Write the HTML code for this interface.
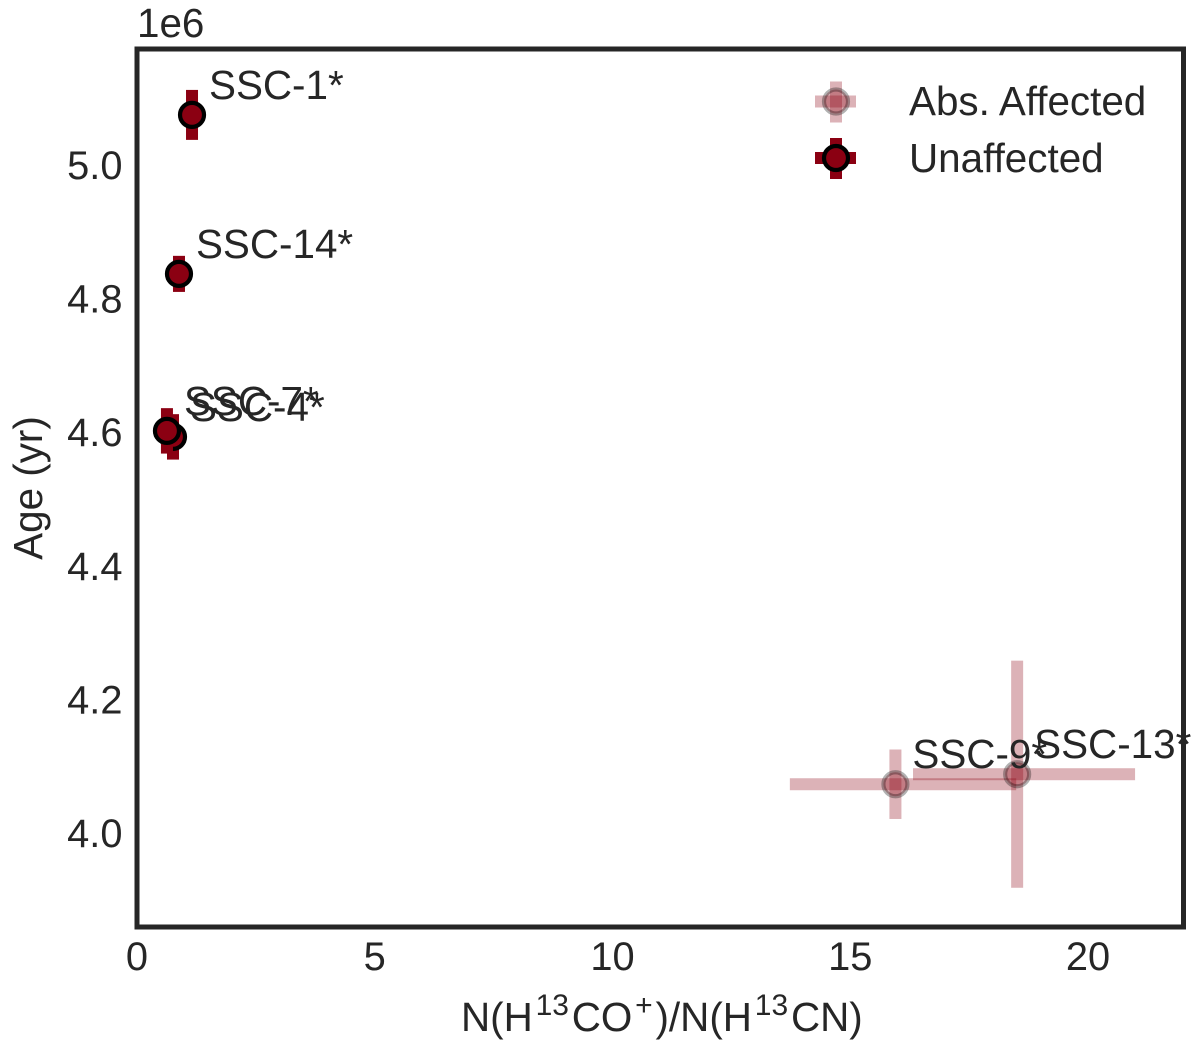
<!DOCTYPE html>
<html>
<head>
<meta charset="utf-8">
<title>Age vs N(H13CO+)/N(H13CN)</title>
<style>
html,body{margin:0;padding:0;background:#fff;}
svg{display:block;}
text{font-family:"Liberation Sans",sans-serif;fill:#262626;font-size:40.4px;}
#ticks text{font-size:39.8px;}
</style>
</head>
<body>
<svg id="chart" width="1200" height="1045" viewBox="0 0 1200 1045" xmlns="http://www.w3.org/2000/svg">
  <rect x="0" y="0" width="1200" height="1045" fill="#fff"/>
  <g id="marks"></g>
  <g id="ticks"></g>
  <rect x="137" y="49" width="1046.5" height="878" fill="none" stroke="#262626" stroke-width="5"/>
  <g id="annotations"></g>
  <text x="137" y="37">1e6</text>
  <text x="0" y="0" transform="translate(42,488) rotate(-90)" text-anchor="middle">Age (yr)</text>
  <text x="461" y="1031">N(H<tspan dy="-16" dx="2.8" style="font-size:30px">13</tspan><tspan dy="16" dx="2.8">CO</tspan><tspan dy="-16" dx="2.8" style="font-size:30px">+</tspan><tspan dy="16" dx="2.8">)/N(H</tspan><tspan dy="-16" dx="2.8" style="font-size:30px">13</tspan><tspan dy="16" dx="2.8">CN)</tspan></text>
  <g>
    <g>
      <rect x="815" y="95.5" width="41" height="12" fill="#8b0012" fill-opacity="0.3"/>
      <rect x="830" y="81.5" width="12" height="41" fill="#8b0012" fill-opacity="0.3"/>
      <circle cx="836" cy="101.5" r="12" fill="#8b0012" fill-opacity="0.3" stroke="#000" stroke-opacity="0.3" stroke-width="4.2"/>
      <text x="909" y="115">Abs. Affected</text>
    </g>
    <g>
      <rect x="815" y="152" width="41" height="12" fill="#8b0012"/>
      <rect x="830" y="138" width="12" height="41" fill="#8b0012"/>
      <circle cx="836" cy="158" r="12" fill="#8b0012" stroke="#000" stroke-width="4.2"/>
      <text x="909" y="172">Unaffected</text>
    </g>
  </g>
</svg>
<script>
const sourceNames = ["SSC-1*", "SSC-14*", "SSC-4*", "SSC-7*", "SSC-9*", "SSC-13*"];
const ratioValues = [1.157, 0.883, 0.757, 0.63, 15.95, 18.51];
const ageValues = [5075000, 4837000, 4593000, 4602000, 4073000, 4088000];
const ratioErrLow = [0.1, 0.1, 0.1, 0.1, 2.22, 2.19];
const ratioErrHigh = [0.1, 0.1, 0.1, 0.1, 2.54, 2.48];
const ageErr = [37400, 27000, 34000, 34000, 52000, 170000];
const absAffected = [false, false, false, false, true, true];
const xTickValues = [0, 5, 10, 15, 20];
const xTickLabels = ["0", "5", "10", "15", "20"];
const yTickValues = [4000000, 4200000, 4400000, 4600000, 4800000, 5000000];
const yTickLabels = ["4.0", "4.2", "4.4", "4.6", "4.8", "5.0"];

const NS = "http://www.w3.org/2000/svg";
function xScale(v) { return 137 + v * 47.55; }
function yScale(v) { return 833 - (v - 4000000) / 1000000 * 668; }
function make(parent, tag, attrs) {
  const el = document.createElementNS(NS, tag);
  for (const k in attrs) el.setAttribute(k, attrs[k]);
  parent.appendChild(el);
  return el;
}

const marks = document.getElementById("marks");
const ticks = document.getElementById("ticks");
const annotations = document.getElementById("annotations");
const BAR = 12;

sourceNames.forEach(function (name, i) {
  const slug = name.replace("*", "").toLowerCase();
  const alpha = absAffected[i] ? 0.3 : 1;
  const cx = xScale(ratioValues[i]);
  const cy = yScale(ageValues[i]);
  const x0 = xScale(ratioValues[i] - ratioErrLow[i]);
  const x1 = xScale(ratioValues[i] + ratioErrHigh[i]);
  const y0 = yScale(ageValues[i] + ageErr[i]);
  const y1 = yScale(ageValues[i] - ageErr[i]);

  const group = make(marks, "g", {});
  
  

  const xBar = make(group, "rect", { x: x0, y: cy - BAR / 2, width: x1 - x0, height: BAR, fill: "#8b0012", "fill-opacity": alpha });
  
  

  const yBar = make(group, "rect", { x: cx - BAR / 2, y: y0, width: BAR, height: y1 - y0, fill: "#8b0012", "fill-opacity": alpha });
  
  

  const dot = make(group, "circle", { cx: cx, cy: cy, r: 12, fill: "#8b0012", "fill-opacity": alpha, stroke: "#000", "stroke-opacity": alpha, "stroke-width": 4.2 });
  
  

  const label = make(annotations, "text", { x: cx + 17, y: cy - 16 });
  
  
  label.textContent = name;
});

xTickValues.forEach(function (v, i) {
  const t = make(ticks, "text", { x: xScale(v), y: 970, "text-anchor": "middle" });
  
  
  t.textContent = xTickLabels[i];
});

yTickValues.forEach(function (v, i) {
  const t = make(ticks, "text", { x: 122.5, y: yScale(v) + 14, "text-anchor": "end" });
  
  
  t.textContent = yTickLabels[i];
});
</script>
</body>
</html>
